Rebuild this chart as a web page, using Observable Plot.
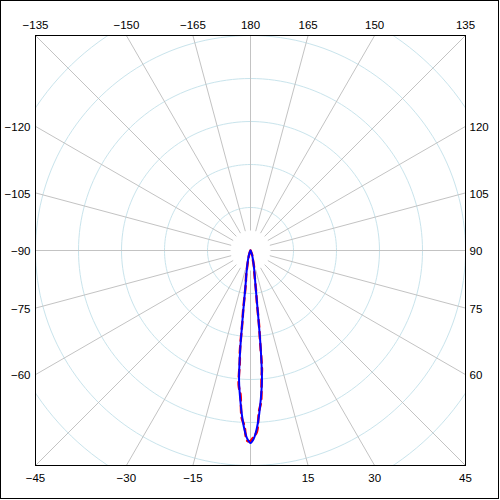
<!DOCTYPE html>
<html>
<head>
<meta charset="utf-8">
<script src="https://cdn.jsdelivr.net/npm/d3@7"></script>
<script src="https://cdn.jsdelivr.net/npm/@observablehq/plot@0.6"></script>
<style>
  html, body { margin: 0; padding: 0; background: #fff; }
</style>
</head>
<body>
<div id="chart"></div>
<script>
// ---- data (angles in degrees, 0 = down, 90 = right; radius 0..1) ----
const lobeAngles = [-30, -20, -15, -12, -10, -8, -7, -6.5, -6, -5.5, -5, -4, -3, -2, -1, 0, 1, 2, 3, 4, 5, 5.5, 6, 6.5, 7, 8, 10, 12, 15, 20, 30];
const blueR = [0, 0.02, 0.045, 0.075, 0.11, 0.17, 0.26, 0.34, 0.45, 0.54, 0.61, 0.69, 0.765, 0.83, 0.875, 0.895, 0.875, 0.83, 0.765, 0.69, 0.61, 0.54, 0.45, 0.34, 0.26, 0.17, 0.11, 0.075, 0.045, 0.02, 0];
const redR  = [0, 0.015, 0.035, 0.07, 0.115, 0.16, 0.28, 0.33, 0.47, 0.52, 0.63, 0.67, 0.78, 0.815, 0.885, 0.885, 0.865, 0.845, 0.75, 0.705, 0.59, 0.555, 0.43, 0.355, 0.245, 0.18, 0.1, 0.08, 0.04, 0.025, 0];

const ringRadii = [0.2, 0.4, 0.6, 0.8, 1.0, 1.2];
const spokeAngles = [-165, -150, -135, -120, -105, -90, -75, -60, -45, -30, -15, 0, 15, 30, 45, 60, 75, 90, 105, 120, 135, 150, 165, 180];
const tickAngles = [-165, -150, -135, -120, -105, -90, -75, -60, -45, -30, -15, 15, 30, 45, 60, 75, 90, 105, 120, 135, 150, 165, 180];
const tickLabels = ["\u2212165", "\u2212150", "\u2212135", "\u2212120", "\u2212105", "\u221290", "\u221275", "\u221260", "\u221245", "\u221230", "\u221215", "15", "30", "45", "60", "75", "90", "105", "120", "135", "150", "165", "180"];

// ---- helpers ----
const rad = d => d * Math.PI / 180;
const px = (a, r) => r * Math.sin(rad(a));
const py = (a, r) => -r * Math.cos(rad(a));

const blue = lobeAngles.map((a, i) => ({a, r: blueR[i]}));
const red = lobeAngles.map((a, i) => ({a, r: redR[i]}));

const ringPts = ringRadii.flatMap(r => d3.range(0, 361, 2).map(a => ({a, r})));
const innerR = 20 / 215;

const ticks = tickAngles.map((a, i) => {
  const s = Math.sin(rad(a)), c = Math.cos(rad(a));
  const t = 1 / Math.max(Math.abs(s), Math.abs(c));
  let side;
  if (c < -0.7) side = "top";
  else if (c > 0.7) side = "bottom";
  else side = s < 0 ? "left" : "right";
  return {a, label: tickLabels[i], x: s * t, y: -c * t, side};
});

const font = "Liberation Sans, Arial, sans-serif";

const chart = Plot.plot({
  width: 500,
  height: 500,
  marginLeft: 35,
  marginRight: 35,
  marginTop: 35,
  marginBottom: 35,
  x: {domain: [-1, 1], axis: null},
  y: {domain: [-1, 1], axis: null},
  style: {fontFamily: font, fontSize: "11.5px", background: "white", overflow: "visible"},
  marks: [
    Plot.line(ringPts, {x: d => px(d.a, d.r), y: d => py(d.a, d.r), z: "r", stroke: "#c9e4ec", strokeWidth: 1, clip: true}),
    Plot.link(spokeAngles, {
      x1: a => px(a, innerR), y1: a => py(a, innerR),
      x2: a => px(a, 1.5), y2: a => py(a, 1.5),
      stroke: "#c3c3c3", strokeWidth: 1, clip: true
    }),
    Plot.line(red, {x: d => px(d.a, d.r), y: d => py(d.a, d.r), stroke: "#ff0000", strokeWidth: 2.5, strokeDasharray: "7,5", curve: "catmull-rom"}),
    Plot.line(blue, {x: d => px(d.a, d.r), y: d => py(d.a, d.r), stroke: "#0000ff", strokeWidth: 2, curve: "catmull-rom"}),
    Plot.frame({stroke: "black", strokeWidth: 1}),
    Plot.frame({stroke: "black", strokeWidth: 1, insetLeft: -35, insetTop: -35, insetRight: -33, insetBottom: -33}),
    Plot.text(ticks.filter(d => d.side === "top"), {x: "x", y: "y", text: "label", dy: -10, textAnchor: "middle", lineAnchor: "middle", fill: "black"}),
    Plot.text(ticks.filter(d => d.side === "bottom"), {x: "x", y: "y", text: "label", dy: 13, textAnchor: "middle", lineAnchor: "middle", fill: "black"}),
    Plot.text(ticks.filter(d => d.side === "left"), {x: "x", y: "y", text: "label", dx: -5, dy: 1, textAnchor: "end", lineAnchor: "middle", fill: "black"}),
    Plot.text(ticks.filter(d => d.side === "right"), {x: "x", y: "y", text: "label", dx: 4, dy: 1, textAnchor: "start", lineAnchor: "middle", fill: "black"})
  ]
});
document.getElementById("chart").appendChild(chart);
</script>
</body>
</html>
